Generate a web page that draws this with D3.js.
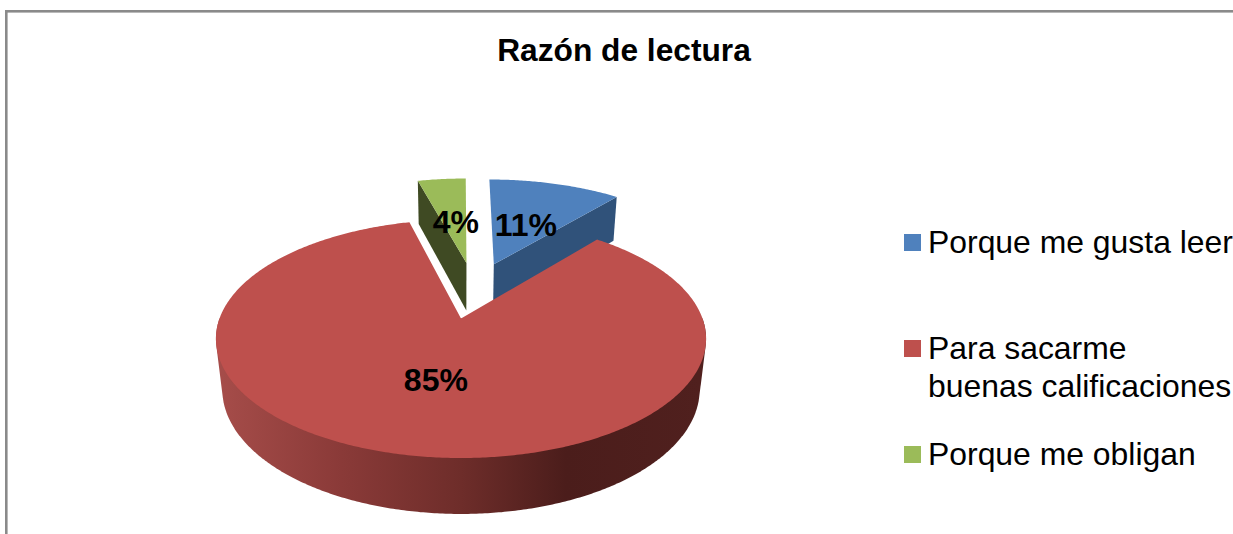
<!DOCTYPE html>
<html lang="es">
<head>
<meta charset="utf-8">
<script src="https://cdn.jsdelivr.net/npm/d3@7/dist/d3.min.js"></script>
<style>
html,body{margin:0;padding:0;background:#fff;overflow:hidden}
svg{display:block}
text{font-family:"Liberation Sans",Arial,sans-serif;fill:#000}
</style>
</head>
<body>
<svg id="chart" width="1233" height="534"></svg>
<script>
const chartTitle = "Razón de lectura";
const categories = ["Porque me gusta leer", "Para sacarme\nbuenas calificaciones", "Porque me obligan"];
const shares = [11, 85, 4];
const topColors = ["#4F81BD", "#BE504D", "#9BBB59"];
const sideColors = ["#30527A", "#7A302E", "#3F4A23"];

const W = 1233, H = 534;
const svg = d3.select("#chart");

// Perspective camera fitted to the picture
const cam = {x0: 461, y0: 318.5, a: 241.5, b: 115.8, k: 0.17, q: 0.026, c: 51.5};
const explode = 0.265;
const project = (U, V, Z) => {
  const s = 1 / (1 + cam.k * V + cam.q * Z);
  return [cam.x0 + cam.a * U * s, cam.y0 + (-cam.b * V + cam.c * Z) * s];
};

const slices = d3.pie().sort(null).value(d => d)(shares);
const mid = d => (d.startAngle + d.endAngle) / 2;
const largest = slices.reduce((m, d) => d.value > m.value ? d : m);
const refU = explode * Math.sin(mid(largest)), refV = explode * Math.cos(mid(largest));

const point = (d, r, theta, Z) => {
  const U = explode * Math.sin(mid(d)) - refU + r * Math.sin(theta);
  const V = explode * Math.cos(mid(d)) - refV + r * Math.cos(theta);
  return project(U, V, Z);
};
const arcAngles = (a0, a1) => {
  const n = Math.max(2, Math.ceil((a1 - a0) / 0.01));
  return d3.range(n + 1).map(i => a0 + (a1 - a0) * i / n);
};
const line = d3.line().curve(d3.curveLinearClosed);

// Gradient of the outer wall
const grad = svg.append("defs").append("linearGradient")
  .attr("id", "wall").attr("gradientUnits", "userSpaceOnUse")
  .attr("x1", 222).attr("x2", 700).attr("y1", 0).attr("y2", 0);
[[0, "#A54C49"], [0.25, "#8A3A38"], [0.5, "#6E2D2A"], [0.72, "#4B1D1B"], [1, "#50201E"]]
  .forEach(([o, c]) => grad.append("stop").attr("offset", o).attr("stop-color", c));

// Frame (runs past the right and bottom edges)
svg.append("rect").attr("x", 6.3).attr("y", 11.3).attr("width", W + 20).attr("height", H + 20)
  .attr("fill", "none").attr("stroke", "#8A8A8A").attr("stroke-width", 2.6);

const drawOrder = slices.filter(d => d !== largest).concat([largest]);
const pie = svg.append("g");
drawOrder.forEach(d => {
  const i = d.index;
  if (d !== largest) {
    const theta = Math.abs(Math.sin(d.startAngle)) > Math.abs(Math.sin(d.endAngle)) ? d.startAngle : d.endAngle;
    pie.append("path")
      .attr("d", line([point(d, 0, 0, 0), point(d, 1, theta, 0), point(d, 1, theta, 1), point(d, 0, 0, 1)]))
      .attr("fill", sideColors[i]);
  } else {
    const a0 = Math.max(d.startAngle, Math.PI / 2), a1 = Math.min(d.endAngle, 3 * Math.PI / 2);
    const ring = arcAngles(a0, a1);
    const pts = ring.map(t => point(d, 1, t, 0)).concat(ring.map(t => point(d, 1, t, 1)));
    pie.append("path").attr("d", line(d3.polygonHull(pts))).attr("fill", "url(#wall)");
  }
  const top = [point(d, 0, 0, 0)].concat(arcAngles(d.startAngle, d.endAngle).map(t => point(d, 1, t, 0)));
  pie.append("path").attr("d", line(top)).attr("fill", topColors[i]);
});

// Title
svg.append("text").attr("x", 624).attr("y", 61).attr("text-anchor", "middle")
  .attr("font-size", 31.7).attr("font-weight", "bold").text(chartTitle);

// Data labels: position in slice-local polar coordinates
const labelPlace = [
  {r: 0.341, t: 0.482},
  {r: 0.574, t: 3.306},
  {r: 0.328, t: -0.15}
];
slices.forEach((d, i) => {
  const [x, y] = point(d, labelPlace[i].r, labelPlace[i].t, 0);
  svg.append("text").attr("x", x).attr("y", y).attr("text-anchor", "middle")
    .attr("font-size", 32).attr("font-weight", "bold").text(d.value + "%");
});

// Legend
const legendBase = d3.scaleOrdinal().domain(categories).range([253, 359, 465]);
const legend = svg.append("g");
categories.forEach((c, i) => {
  const y = legendBase(c);
  legend.append("rect").attr("x", 904).attr("y", y - 19).attr("width", 17).attr("height", 17).attr("fill", topColors[i]);
  const t = legend.append("text").attr("x", 928).attr("y", y).attr("font-size", 31.9);
  c.split("\n").forEach((s, j) => t.append("tspan").attr("x", 928).attr("dy", j ? 38 : 0).text(s));
});
</script>
</body>
</html>
